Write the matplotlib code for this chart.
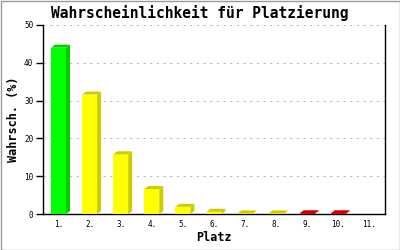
import matplotlib
matplotlib.use('Agg')
import matplotlib.pyplot as plt
from matplotlib.patches import Polygon, Rectangle

# daten
plaetze = ['1.', '2.', '3.', '4.', '5.', '6.', '7.', '8.', '9.', '10.', '11.']
wahrsch = [44.0, 31.6, 15.8, 6.6, 1.9, 0.6, 0.15, 0.15, 0.2, 0.2, 0.0]
farben_vorne = ['#00ff00', '#ffff00', '#ffff00', '#ffff00', '#ffff00', '#ffff00',
                '#ffff00', '#ffff00', '#ff0000', '#ff0000', '#ff0000']
farben_seite = ['#00cc00', '#cccc00', '#cccc00', '#cccc00', '#cccc00', '#cccc00',
                '#cccc00', '#cccc00', '#cc0000', '#cc0000', '#cc0000']

font = 'DejaVu Sans Mono'

fig = plt.figure(figsize=(4, 2.5), dpi=100)
ax = fig.add_axes([43/400, 36/250, 342/400, 189/250])

breite = 0.48
dx = 4 * 11 / 342   # 3d-tiefe in x
dy = 3 * 50 / 189   # 3d-tiefe in y

for i, v in enumerate(wahrsch):
    if v <= 0:
        continue
    x0 = i - breite / 2
    x1 = i + breite / 2
    ax.add_patch(Rectangle((x0, 0), breite, v, facecolor=farben_vorne[i], edgecolor='none', zorder=3))
    # seite
    ax.add_patch(Polygon([(x1, 0), (x1 + dx, dy), (x1 + dx, v + dy), (x1, v)],
                         closed=True, facecolor=farben_seite[i], edgecolor='none', zorder=3))
    # deckel
    ax.add_patch(Polygon([(x0, v), (x0 + dx, v + dy), (x1 + dx, v + dy), (x1, v)],
                         closed=True, facecolor=farben_seite[i], edgecolor='none', zorder=3))

ax.set_xlim(-0.5, len(plaetze) - 0.5)
ax.set_ylim(0, 50)
ax.set_xticks(range(len(plaetze)))
ax.set_xticklabels(plaetze, family=font, fontsize=5.5)
ax.set_yticks([0, 10, 20, 30, 40, 50])
ax.set_yticklabels(['0', '10', '20', '30', '40', '50'], family=font, fontsize=5.5)
ax.tick_params(axis='x', length=0, pad=4)
ax.tick_params(axis='y', length=5, width=1, pad=2)

ax.grid(axis='y', linestyle=(0, (2, 4)), color='#bbbbbb', linewidth=0.8, zorder=0)
ax.spines['top'].set_visible(False)
for s in ['left', 'right', 'bottom']:
    ax.spines[s].set_linewidth(1)
    ax.spines[s].set_color('black')

ax.set_xlabel('Platz', family=font, fontweight='bold', fontsize=8.5, labelpad=2)
ax.set_ylabel('Wahrsch. (%)', family=font, fontweight='bold', fontsize=8.5, labelpad=3)
fig.text(0.5, 1 - 13/250, 'Wahrscheinlichkeit für Platzierung', family=font,
         fontweight='bold', fontsize=10.5, ha='center', va='center')

fig.patches.append(Rectangle((0.5/400, 0.5/250), 1 - 1/400, 1 - 1/250, transform=fig.transFigure,
                             fill=False, edgecolor='#999999', linewidth=1))

fig.savefig('out.png', dpi=100)
